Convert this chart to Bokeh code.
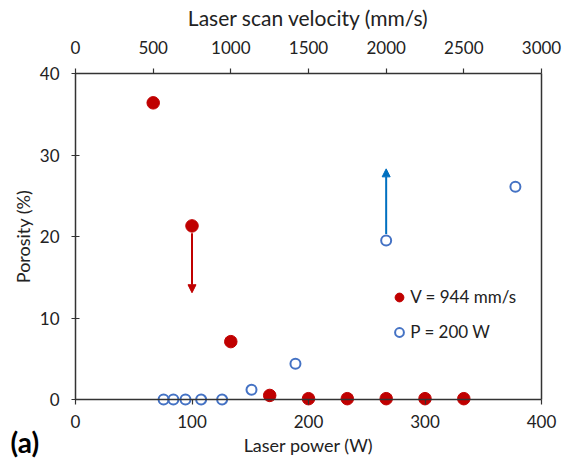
from bokeh.plotting import figure
from bokeh.models import (Range1d, LinearAxis, Legend, LegendItem, Arrow,
                          NormalHead, Label, FixedTicker)
from bokeh.embed import file_html
from bokeh.resources import INLINE

# ---- data ----
power_w = [66.7, 100, 133.3, 166.7, 200, 233.3, 266.7, 300, 333.3]
porosity_v944 = [36.4, 21.3, 7.1, 0.5, 0.1, 0.1, 0.1, 0.1, 0.1]

velocity_mms = [567, 630, 708, 809, 944, 1133, 1416, 2000, 2832]
porosity_p200 = [0.0, 0.0, 0.0, 0.0, 0.0, 1.2, 4.4, 19.5, 26.1]

power_ticks = [0, 100, 200, 300, 400]
velocity_ticks = [0, 500, 1000, 1500, 2000, 2500, 3000]
porosity_ticks = [0, 10, 20, 30, 40]

red_arrow_x, red_arrow_y0, red_arrow_y1 = 100, 20.4, 13.1
blue_arrow_x, blue_arrow_y0, blue_arrow_y1 = 2000, 20.3, 28.3

RED = "#C00000"
BLUE = "#4472C4"
ARROW_BLUE = "#0070C0"
AX = "#333333"
TXT = "#222222"
FONT = "Lato"

W, H = 565, 464
L, R, T, B = 75, 541, 73, 399          # pixel positions of the data box edges
PX_W = (R - L) / 400.0
PX_V = (R - L) / 3000.0
PX_Y = (B - T) / 40.0

p = figure(width=W, height=H,
           x_range=Range1d(-L / PX_W, 400 + (W - R) / PX_W),
           y_range=Range1d(-(H - B) / PX_Y, 40 + T / PX_Y),
           output_backend="svg", toolbar_location=None,
           x_axis_location=None, y_axis_location=None,
           min_border_left=0, min_border_right=0, min_border_top=0, min_border_bottom=0)
p.extra_x_ranges = {"vel": Range1d(-L / PX_V, 3000 + (W - R) / PX_V)}
p.outline_line_color = None
p.grid.visible = False
p.background_fill_color = "white"


def style(ax, size="17px"):
    ax.axis_line_color = AX
    ax.axis_line_width = 1.5
    ax.major_tick_line_color = AX
    ax.major_tick_line_width = 1.2
    ax.minor_tick_line_color = None
    ax.minor_tick_in = 0
    ax.minor_tick_out = 0
    ax.major_label_text_font = FONT
    ax.major_label_text_font_size = size
    ax.major_label_text_color = TXT
    ax.axis_label_text_font = FONT
    ax.axis_label_text_font_style = "normal"
    ax.axis_label_text_color = TXT


yaxis = LinearAxis(fixed_location=0, bounds=(0, 40), ticker=FixedTicker(ticks=porosity_ticks),
                   axis_label="Porosity (%)")
style(yaxis)
yaxis.major_tick_in = 4
yaxis.major_tick_out = 4
yaxis.major_label_standoff = 12
yaxis.axis_label_standoff = 3
yaxis.axis_label_text_font_size = "18px"
p.add_layout(yaxis, "left")

xaxis = LinearAxis(fixed_location=0, bounds=(0, 400), ticker=FixedTicker(ticks=power_ticks),
                   axis_label="Laser power (W)")
style(xaxis)
xaxis.major_tick_in = 0
xaxis.major_tick_out = 5
xaxis.major_label_standoff = 10
xaxis.axis_label_standoff = 3
xaxis.axis_label_text_font_size = "18px"
p.add_layout(xaxis, "below")

taxis = LinearAxis(fixed_location=40, x_range_name="vel", bounds=(0, 3000),
                   ticker=FixedTicker(ticks=velocity_ticks),
                   axis_label="Laser scan velocity (mm/s)")
style(taxis)
taxis.major_tick_in = 0
taxis.major_tick_out = 5
taxis.major_label_standoff = 15
taxis.axis_label_standoff = 8
taxis.axis_label_text_font_size = "21px"
p.add_layout(taxis, "above")

raxis = LinearAxis(fixed_location=400, bounds=(0, 40), ticker=FixedTicker(ticks=[]))
raxis.axis_line_color = AX
raxis.axis_line_width = 1.5
raxis.major_tick_line_color = None
raxis.minor_tick_line_color = None
raxis.major_label_text_color = None
p.add_layout(raxis, "right")

r_red = p.scatter(power_w, porosity_v944, size=12.5, fill_color=RED, line_color=RED, line_width=1)
r_blue = p.scatter(velocity_mms, porosity_p200, x_range_name="vel", size=10,
                   fill_color="white", fill_alpha=0, line_color=BLUE, line_width=2)

p.add_layout(Arrow(x_start=red_arrow_x, y_start=red_arrow_y0, x_end=red_arrow_x, y_end=red_arrow_y1,
                   line_color=RED, line_width=2,
                   end=NormalHead(size=8, fill_color=RED, line_color=RED)))
p.add_layout(Arrow(x_start=blue_arrow_x, y_start=blue_arrow_y0, x_end=blue_arrow_x, y_end=blue_arrow_y1,
                   x_range_name="vel", line_color=ARROW_BLUE, line_width=2,
                   end=NormalHead(size=8, fill_color=ARROW_BLUE, line_color=ARROW_BLUE)))

legend = Legend(items=[LegendItem(label="V = 944 mm/s", renderers=[r_red]),
                       LegendItem(label="P = 200 W", renderers=[r_blue])],
                location=(388.3, 121.3), glyph_width=22, glyph_height=22, label_height=20,
                spacing=13, padding=0, margin=0, label_standoff=0,
                border_line_color=None, background_fill_alpha=0,
                label_text_font=FONT, label_text_font_size="17px", label_text_color=TXT)
p.add_layout(legend, "center")

p.add_layout(Label(x=10, y=H - 441, x_units="screen", y_units="screen", text="(a)",
                   text_font=FONT, text_font_style="bold", text_font_size="28px",
                   text_color="black", text_baseline="middle"))

open("out.html", "w").write(file_html(p, INLINE))
